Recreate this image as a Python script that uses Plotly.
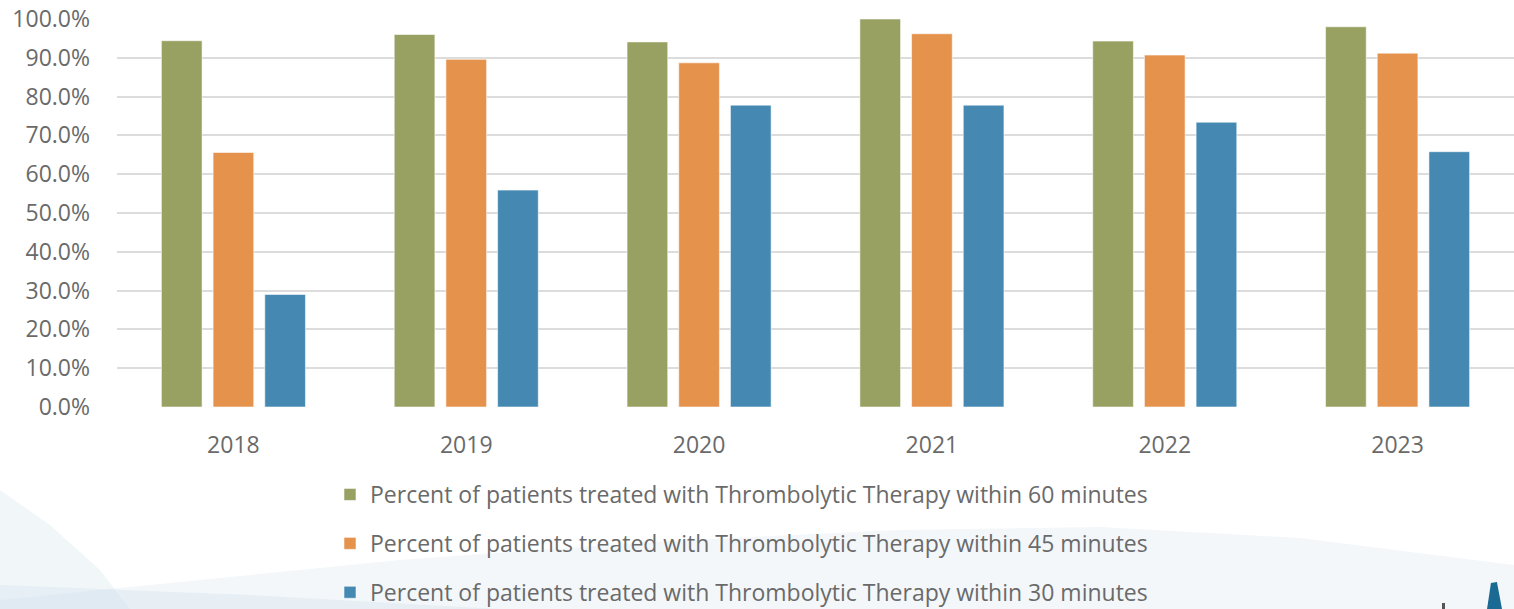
import plotly.graph_objects as go

years = ["2018", "2019", "2020", "2021", "2022", "2023"]
within_60 = [0.944, 0.960, 0.941, 1.000, 0.943, 0.980]
within_45 = [0.656, 0.896, 0.887, 0.962, 0.907, 0.912]
within_30 = [0.290, 0.559, 0.778, 0.778, 0.734, 0.658]
series_names = [
    "Percent of patients treated with Thrombolytic Therapy within 60 minutes",
    "Percent of patients treated with Thrombolytic Therapy within 45 minutes",
    "Percent of patients treated with Thrombolytic Therapy within 30 minutes",
]
series_colors = ["#98A062", "#E5924D", "#4589B2"]
y_ticks = [i / 10 for i in range(11)]

W, H = 1514, 609
ML, MR, MT, MB = 117, 0, 19, 202
PW, PH = W - ML - MR, H - MT - MB
FONT = "Open Sans"
TXT = "#6A6A6A"
FS = 23


def px(x):
    return (x - ML) / PW


def py(y):
    return (H - MB - y) / PH


fig = go.Figure()
for i, (name, vals, col) in enumerate(zip(series_names, [within_60, within_45, within_30], series_colors)):
    fig.add_trace(go.Bar(
        x=years, y=vals, name=name, legendgroup=f"g{i}",
        marker=dict(color=col, line=dict(color="rgba(255,255,255,0.55)", width=1)),
    ))


def path(points):
    return "M " + " L ".join(f"{px(a):.4f},{py(b):.4f}" for a, b in points) + " Z"


shapes = [
    dict(type="path", xref="paper", yref="paper", layer="below", line=dict(width=0),
         fillcolor="rgba(214,228,238,0.30)",
         path=path([(0, 600), (200, 580), (400, 560), (650, 542), (900, 530), (1100, 527),
                    (1300, 538), (1514, 565), (1514, 609), (0, 609)])),
    dict(type="path", xref="paper", yref="paper", layer="below", line=dict(width=0),
         fillcolor="rgba(210,225,236,0.30)",
         path=path([(0, 490), (50, 525), (100, 570), (130, 609), (0, 609)])),
    dict(type="path", xref="paper", yref="paper", layer="below", line=dict(width=0),
         fillcolor="rgba(205,222,234,0.30)",
         path=path([(0, 585), (250, 595), (500, 609), (0, 609)])),
    dict(type="path", xref="paper", yref="paper", layer="above", line=dict(width=0),
         fillcolor="#1B6A93",
         path=path([(1487, 609), (1491, 583), (1497, 582), (1502, 609)])),
    dict(type="rect", xref="paper", yref="paper", layer="above", line=dict(width=0),
         fillcolor="#555555",
         x0=px(1442), x1=px(1445), y0=py(609), y1=py(603)),
]

fig.update_layout(
    width=W, height=H,
    margin=dict(l=ML, r=MR, t=MT, b=MB, pad=0, autoexpand=False),
    paper_bgcolor="white", plot_bgcolor="rgba(0,0,0,0)",
    barmode="group", bargap=0.334, bargroupgap=0.213,
    font=dict(family=FONT, size=FS, color=TXT),
    showlegend=True,
    legend=dict(
        xref="container", yref="container",
        x=330 / W, y=1 - 473 / H, xanchor="left", yanchor="top",
        orientation="v", traceorder="grouped", tracegroupgap=16,
        bgcolor="rgba(0,0,0,0)", font=dict(family=FONT, size=FS, color=TXT),
        itemwidth=30,
    ),
    shapes=shapes,
)
fig.update_xaxes(
    showgrid=False, showline=False, zeroline=False, ticks="",
    ticklabelstandoff=22, tickfont=dict(size=FS, color=TXT),
)
fig.update_yaxes(
    range=[0, 1.0], tickvals=y_ticks, tickformat=".1%",
    showgrid=True, gridcolor="#DCDCDC", gridwidth=1.5,
    zeroline=False, showline=False, ticks="",
    ticklabelstandoff=26, tickfont=dict(size=FS, color=TXT),
)

fig.write_html(
    "out.html",
    config={"displayModeBar": False},
    post_script="document.body.style.margin='0';document.body.style.overflow='hidden';",
)
